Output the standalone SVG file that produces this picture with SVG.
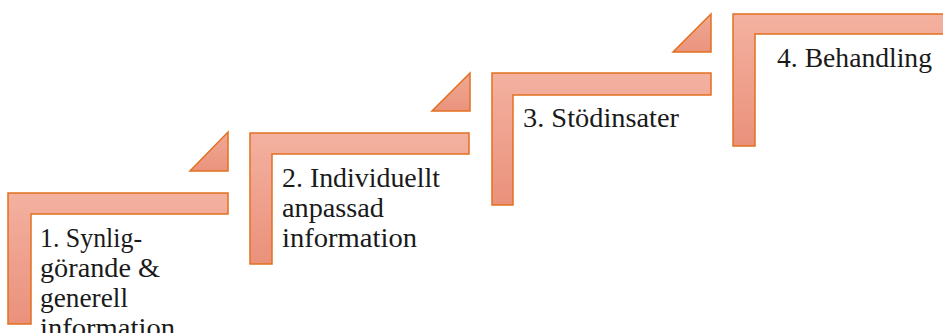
<svg xmlns="http://www.w3.org/2000/svg" width="943" height="333" viewBox="0 0 943 333">
<defs>
<linearGradient id="gStep" x1="0" y1="0" x2="0" y2="1">
<stop offset="0" stop-color="#F4B1A0"/>
<stop offset="1" stop-color="#EA917B"/>
</linearGradient>
<linearGradient id="gTri" x1="0" y1="0" x2="0" y2="1">
<stop offset="0" stop-color="#F0A994"/>
<stop offset="1" stop-color="#EA937D"/>
</linearGradient>
</defs>
<style>
.step{fill:url(#gStep);stroke:#E2701F;stroke-width:1.5;stroke-linejoin:miter}
.tri{fill:url(#gTri);stroke:#E2701F;stroke-width:1.5;stroke-linejoin:miter}
.lbl{font-family:"Liberation Serif","Times New Roman",serif;font-size:28px;fill:#1a1a1a}
</style>
<rect width="943" height="333" fill="#ffffff"/>
<g id="arrows">
<polygon class="tri" points="228,132 228,171 190,171"/>
<polygon class="tri" points="470,73 470,111 432,111"/>
<polygon class="tri" points="711,14 711,52 673,52"/>
</g>
<g id="step1">
<path class="step" d="M8,193 H228 V214 H31 V324 H8 Z"/>
<text class="lbl" x="40" y="247" textLength="102" lengthAdjust="spacingAndGlyphs">1. Synlig-</text>
<text class="lbl" x="40" y="277" textLength="120" lengthAdjust="spacingAndGlyphs">görande &amp;</text>
<text class="lbl" x="40" y="307" textLength="88" lengthAdjust="spacingAndGlyphs">generell</text>
<text class="lbl" x="40" y="337" textLength="135" lengthAdjust="spacingAndGlyphs">information</text>
</g>
<g id="step2">
<path class="step" d="M250,133 H469 V154 H272 V264 H250 Z"/>
<text class="lbl" x="282" y="187" textLength="158" lengthAdjust="spacingAndGlyphs">2. Individuellt</text>
<text class="lbl" x="282" y="217" textLength="102" lengthAdjust="spacingAndGlyphs">anpassad</text>
<text class="lbl" x="282" y="247" textLength="135" lengthAdjust="spacingAndGlyphs">information</text>
</g>
<g id="step3">
<path class="step" d="M492,73 H711 V95 H513 V205 H492 Z"/>
<text class="lbl" x="523" y="127" textLength="156" lengthAdjust="spacingAndGlyphs">3. Stödinsater</text>
</g>
<g id="step4">
<path class="step" d="M733,14 H960 V34 H755 V146 H733 Z"/>
<text class="lbl" x="777" y="67" textLength="155" lengthAdjust="spacingAndGlyphs">4. Behandling</text>
</g>
</svg>
